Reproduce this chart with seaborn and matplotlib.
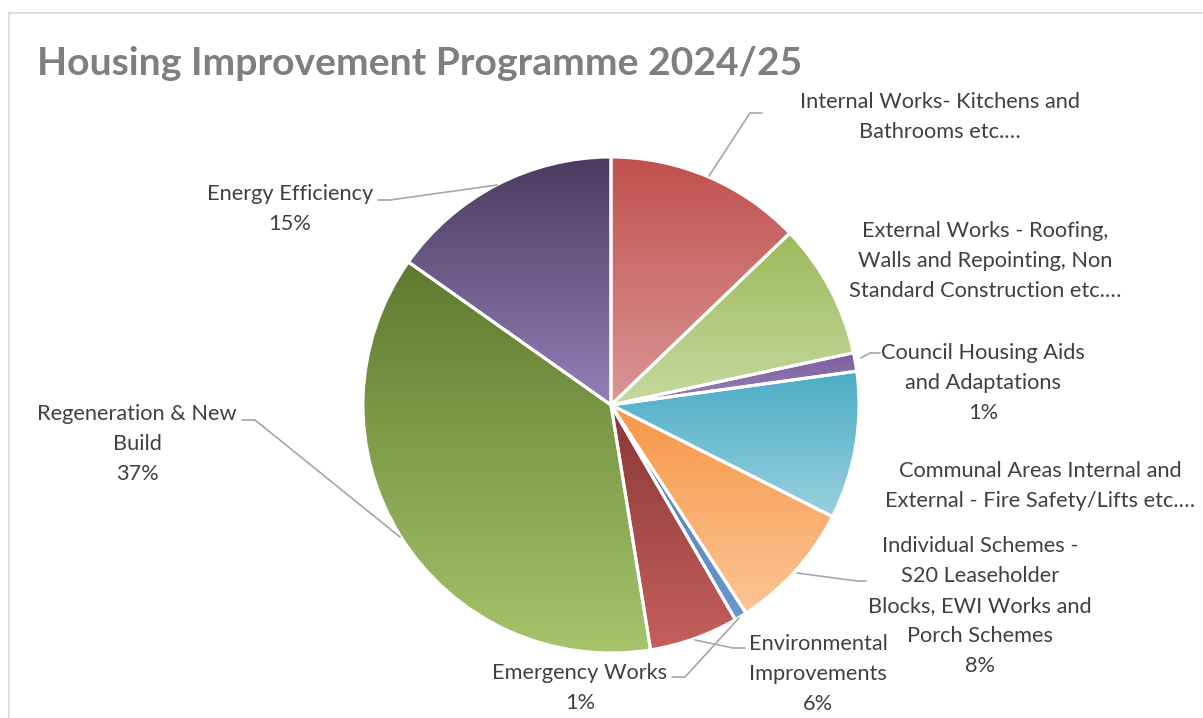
import numpy as np
import matplotlib
matplotlib.use("Agg")
import matplotlib.pyplot as plt
from matplotlib.colors import LinearSegmentedColormap
from matplotlib.patches import Rectangle
import seaborn as sns

# ---- data ----
categories = [
    "Internal Works- Kitchens and\nBathrooms etc.…",
    "External Works - Roofing,\nWalls and Repointing, Non\nStandard Construction etc.…",
    "Council Housing Aids\nand Adaptations",
    "Communal Areas Internal and\nExternal - Fire Safety/Lifts etc.…",
    "Individual Schemes -\nS20 Leaseholder\nBlocks, EWI Works and\nPorch Schemes",
    "Emergency Works",
    "Environmental\nImprovements",
    "Regeneration & New\nBuild",
    "Energy Efficiency",
]
values = [12.8, 8.8, 1.2, 9.6, 8.4, 0.8, 5.8, 37.3, 15.2]
show_pct = [False, False, True, False, True, True, True, True, True]
top_colors = ["#C0504D", "#9BBB59", "#7A5E9C", "#4BACC6", "#F79646",
              "#4F81BD", "#8A3836", "#5E7A2E", "#4A3A5E"]
bottom_colors = ["#DA9896", "#C6D9A0", "#9A82BA", "#98D0DF", "#FBC595",
                 "#6A96CC", "#C45F5C", "#A6C46B", "#9480B8"]

W, H = 1203, 718
sns.set_theme(style="white")
plt.rcParams["font.family"] = ["Lato", "DejaVu Sans"]

fig = plt.figure(figsize=(W / 100, H / 100), dpi=100)
ax = fig.add_axes([0, 0, 1, 1])
ax.set_axis_off()

def P(x, y):
    return (x, H - y)

cx, cy = P(611, 405)
R = 248

wedges, _ = ax.pie(values, startangle=90, counterclock=False,
                   center=(cx, cy), radius=R, frame=True,
                   wedgeprops=dict(facecolor="none", edgecolor="white",
                                   linewidth=2.2, zorder=3))

for w, ct, cb in zip(wedges, top_colors, bottom_colors):
    bb = w.get_path().get_extents()
    cmap = LinearSegmentedColormap.from_list("g", [ct, cb])
    grad = cmap(np.linspace(0, 1, 256))[:, None, :]
    im = ax.imshow(grad, extent=(bb.x0, bb.x1, bb.y0, bb.y1), origin="upper",
                   aspect="auto", zorder=2, interpolation="bilinear")
    im.set_clip_path(w)

ax.set_xlim(0, W)
ax.set_ylim(0, H)
ax.set_aspect("equal")
ax.set_axis_off()

# border
ax.add_patch(Rectangle(P(8.5, 800), 1400, 800 - 12.5, fill=False,
                       edgecolor="#D9D9D9", linewidth=1.2, clip_on=False, zorder=1))

# title
ax.text(*P(37, 75), "Housing Improvement Programme 2024/25", ha="left", va="baseline",
        fontsize=28.2, fontweight="bold", color="#7F7F7F")

# labels
label_pos = [(940, 117), (985, 261), (983, 383), (1040, 486), (980, 606),
             (580, 688), (818, 674), (137, 444), (290, 209)]
for name, v, sp, (lx, ly) in zip(categories, values, show_pct, label_pos):
    txt = name + (f"\n{round(v / sum(values) * 100):.0f}%" if sp else "")
    ax.text(*P(lx, ly), txt, ha="center", va="center", fontsize=15.7,
            color="#404040", linespacing=1.62, zorder=5)

# leader lines
leaders = [
    [(762, 113), (750, 113), (709, 176)],
    [(880, 353), (870, 353), (861, 358)],
    [(866, 581), (857, 581), (797, 573)],
    [(672, 677), (685, 677), (739, 618)],
    [(745, 648), (733, 648), (695, 640)],
    [(242, 420), (255, 420), (400, 537)],
    [(378, 200), (390, 200), (497, 185)],
]
for pts in leaders:
    xs, ys = zip(*[P(x, y) for x, y in pts])
    ax.plot(xs, ys, color="#A6A6A6", linewidth=1.2, zorder=4)

fig.savefig("out.png", dpi=100)
